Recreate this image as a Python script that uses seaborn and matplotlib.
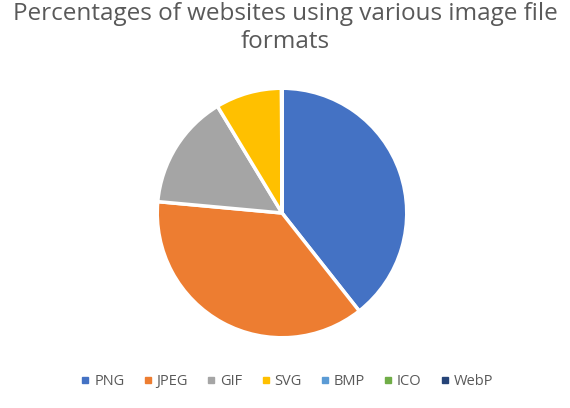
import matplotlib
matplotlib.use("Agg")
import matplotlib.pyplot as plt
import seaborn as sns
from matplotlib.lines import Line2D

formats = ["PNG", "JPEG", "GIF", "SVG", "BMP", "ICO", "WebP"]
shares = [39.4, 37.1, 14.9, 8.6, 0.02, 0.02, 0.02]
colors = ["#4472C4", "#ED7D31", "#A5A5A5", "#FFC000", "#5B9BD5", "#70AD47", "#264478"]

sns.set_theme(style="white")
plt.rcParams["font.family"] = ["Open Sans", "DejaVu Sans"]

fig = plt.figure(figsize=(5.7, 4.08), dpi=100)
# axes box matches the pie's bounding box
ax = fig.add_axes([155 / 570, 1 - 339 / 408, 254 / 570, 252 / 408])

ax.pie(shares, colors=colors, startangle=90, counterclock=False,
       wedgeprops=dict(edgecolor="white", linewidth=2.5))
ax.set_xlim(-1.01, 1.01)
ax.set_ylim(-1.01, 1.01)
ax.set_aspect("equal")

fig.text(0.5, 0.995, "Percentages of websites using various image file\nformats",
         ha="center", va="top", fontsize=17.5, color="#595959", linespacing=1.2)

handles = [Line2D([0], [0], marker="s", linestyle="", markersize=4.5,
                  markerfacecolor=c, markeredgecolor=c) for c in colors]
fig.legend(handles, formats, loc="center", bbox_to_anchor=(0.5, 0.065), ncol=7,
           frameon=False, fontsize=10.5, handletextpad=0.0, columnspacing=1.0,
           handlelength=1.2, labelcolor="#595959")

fig.savefig("out.png", dpi=100)
